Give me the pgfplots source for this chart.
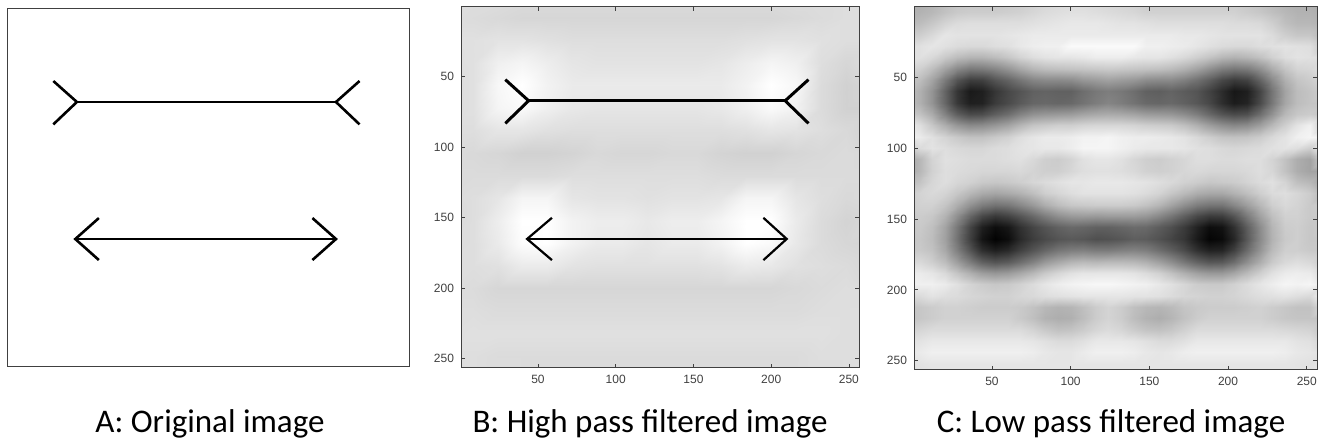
\documentclass[border=0pt]{standalone}
\usepackage{fontspec}
\setmainfont{Carlito}
\setsansfont{Liberation Sans}
\usepackage{pgfplots}
\pgfplotsset{compat=1.18}
\pgfplotsset{
 imgax/.style={scale only axis, anchor=south west, xmin=0.5, xmax=256.5, ymin=0.5, ymax=256.5,
   y dir=reverse, axis line style={black!75, line width=0.5pt}, axis on top=true},
 tickax/.style={xtick={50,100,150,200,250}, ytick={50,100,150,200,250}, tick align=inside,
   tick pos=both, major tick length=2pt, tick style={black!75, line width=0.4pt},
   tick label style={font=\sffamily\fontsize{6}{7}\selectfont, text=black!75},
   /pgf/number format/assume math mode=true},
 colormap={bw}{gray(0cm)=(0); gray(1cm)=(1)},
}
\begin{document}
\begin{tikzpicture}
\useasboundingbox (0,0) rectangle (660pt,221pt);
% ---------------- Panel A ----------------
\begin{axis}[imgax, at={(3.5pt,37.5pt)}, width=201pt, height=179pt, ticks=none]
\addplot[black, line width=1.3pt] coordinates {(30,52) (45,67) (30,83)};
\addplot[black, line width=1.3pt] coordinates {(45,67) (210,67)};
\addplot[black, line width=1.3pt] coordinates {(225,52) (210,67) (225,83)};
\addplot[black, line width=1.3pt] coordinates {(59,150) (44,165) (59,180)};
\addplot[black, line width=1.3pt] coordinates {(44,165) (210,165)};
\addplot[black, line width=1.3pt] coordinates {(195,150) (210,165) (195,180)};
\end{axis}
% ---------------- Panel B ----------------
\begin{axis}[imgax, tickax, at={(230.5pt,37pt)}, width=199pt, height=180.5pt,
  point meta min=0, point meta max=1]
\addplot[matrix plot*, shader=interp, mesh/cols=17, point meta=explicit] table[row sep=\\, meta=c] {
x y c\\
0 0 .87\\ 16 0 .87\\ 32 0 .87\\ 48 0 .86\\ 64 0 .86\\ 80 0 .86\\ 96 0 .86\\ 112 0 .86\\ 128 0 .86\\ 144 0 .86\\ 160 0 .86\\ 176 0 .86\\ 192 0 .86\\ 208 0 .86\\ 224 0 .87\\ 240 0 .87\\ 256 0 .87\\
0 16 .87\\ 16 16 .86\\ 32 16 .85\\ 48 16 .84\\ 64 16 .84\\ 80 16 .84\\ 96 16 .84\\ 112 16 .84\\ 128 16 .84\\ 144 16 .84\\ 160 16 .84\\ 176 16 .84\\ 192 16 .84\\ 208 16 .84\\ 224 16 .85\\ 240 16 .86\\ 256 16 .87\\
0 32 .88\\ 16 32 .88\\ 32 32 .89\\ 48 32 .89\\ 64 32 .88\\ 80 32 .87\\ 96 32 .87\\ 112 32 .87\\ 128 32 .87\\ 144 32 .87\\ 160 32 .87\\ 176 32 .87\\ 192 32 .88\\ 208 32 .89\\ 224 32 .89\\ 240 32 .88\\ 256 32 .87\\
0 48 .87\\ 16 48 .88\\ 32 48 .94\\ 48 48 .96\\ 64 48 .93\\ 80 48 .90\\ 96 48 .89\\ 112 48 .89\\ 128 48 .89\\ 144 48 .89\\ 160 48 .89\\ 176 48 .90\\ 192 48 .93\\ 208 48 .96\\ 224 48 .94\\ 240 48 .87\\ 256 48 .84\\
0 64 .86\\ 16 64 .88\\ 32 64 .97\\ 48 64 1\\ 64 64 .95\\ 80 64 .92\\ 96 64 .92\\ 112 64 .92\\ 128 64 .92\\ 144 64 .92\\ 160 64 .92\\ 176 64 .92\\ 192 64 .95\\ 208 64 1\\ 224 64 .97\\ 240 64 .86\\ 256 64 .82\\
0 80 .86\\ 16 80 .88\\ 32 80 .96\\ 48 80 .98\\ 64 80 .94\\ 80 80 .91\\ 96 80 .90\\ 112 80 .90\\ 128 80 .90\\ 144 80 .90\\ 160 80 .90\\ 176 80 .91\\ 192 80 .94\\ 208 80 .98\\ 224 80 .95\\ 240 80 .86\\ 256 80 .82\\
0 96 .87\\ 16 96 .87\\ 32 96 .90\\ 48 96 .90\\ 64 96 .88\\ 80 96 .87\\ 96 96 .87\\ 112 96 .87\\ 128 96 .87\\ 144 96 .87\\ 160 96 .87\\ 176 96 .87\\ 192 96 .88\\ 208 96 .90\\ 224 96 .89\\ 240 96 .87\\ 256 96 .85\\
0 112 .86\\ 16 112 .85\\ 32 112 .84\\ 48 112 .82\\ 64 112 .82\\ 80 112 .83\\ 96 112 .85\\ 112 112 .84\\ 128 112 .84\\ 144 112 .85\\ 160 112 .85\\ 176 112 .83\\ 192 112 .82\\ 208 112 .82\\ 224 112 .84\\ 240 112 .85\\ 256 112 .86\\
0 128 .86\\ 16 128 .86\\ 32 128 .86\\ 48 128 .86\\ 64 128 .86\\ 80 128 .87\\ 96 128 .87\\ 112 128 .87\\ 128 128 .87\\ 144 128 .87\\ 160 128 .87\\ 176 128 .86\\ 192 128 .86\\ 208 128 .86\\ 224 128 .86\\ 240 128 .86\\ 256 128 .86\\
0 144 .86\\ 16 144 .87\\ 32 144 .90\\ 48 144 .96\\ 64 144 .96\\ 80 144 .90\\ 96 144 .89\\ 112 144 .89\\ 128 144 .88\\ 144 144 .89\\ 160 144 .89\\ 176 144 .90\\ 192 144 .96\\ 208 144 .96\\ 224 144 .90\\ 240 144 .87\\ 256 144 .85\\
0 160 .85\\ 16 160 .87\\ 32 160 .93\\ 48 160 1\\ 64 160 1\\ 80 160 .95\\ 96 160 .93\\ 112 160 .93\\ 128 160 .91\\ 144 160 .93\\ 160 160 .93\\ 176 160 .96\\ 192 160 1\\ 208 160 1\\ 224 160 .92\\ 240 160 .86\\ 256 160 .83\\
0 176 .86\\ 16 176 .87\\ 32 176 .92\\ 48 176 .99\\ 64 176 1\\ 80 176 .95\\ 96 176 .92\\ 112 176 .92\\ 128 176 .90\\ 144 176 .92\\ 160 176 .92\\ 176 176 .95\\ 192 176 1\\ 208 176 .98\\ 224 176 .91\\ 240 176 .86\\ 256 176 .84\\
0 192 .87\\ 16 192 .87\\ 32 192 .88\\ 48 192 .92\\ 64 192 .92\\ 80 192 .89\\ 96 192 .88\\ 112 192 .88\\ 128 192 .88\\ 144 192 .88\\ 160 192 .88\\ 176 192 .89\\ 192 192 .92\\ 208 192 .91\\ 224 192 .88\\ 240 192 .87\\ 256 192 .86\\
0 208 .87\\ 16 208 .86\\ 32 208 .84\\ 48 208 .84\\ 64 208 .84\\ 80 208 .84\\ 96 208 .84\\ 112 208 .84\\ 128 208 .84\\ 144 208 .84\\ 160 208 .84\\ 176 208 .84\\ 192 208 .84\\ 208 208 .84\\ 224 208 .85\\ 240 208 .86\\ 256 208 .87\\
0 224 .87\\ 16 224 .87\\ 32 224 .86\\ 48 224 .86\\ 64 224 .86\\ 80 224 .86\\ 96 224 .86\\ 112 224 .86\\ 128 224 .86\\ 144 224 .86\\ 160 224 .86\\ 176 224 .86\\ 192 224 .86\\ 208 224 .86\\ 224 224 .86\\ 240 224 .87\\ 256 224 .87\\
0 240 .87\\ 16 240 .88\\ 32 240 .88\\ 48 240 .88\\ 64 240 .88\\ 80 240 .88\\ 96 240 .88\\ 112 240 .88\\ 128 240 .88\\ 144 240 .88\\ 160 240 .88\\ 176 240 .88\\ 192 240 .88\\ 208 240 .88\\ 224 240 .88\\ 240 240 .88\\ 256 240 .87\\
0 256 .87\\ 16 256 .87\\ 32 256 .86\\ 48 256 .86\\ 64 256 .86\\ 80 256 .86\\ 96 256 .86\\ 112 256 .86\\ 128 256 .86\\ 144 256 .86\\ 160 256 .86\\ 176 256 .86\\ 192 256 .86\\ 208 256 .86\\ 224 256 .86\\ 240 256 .87\\ 256 256 .87\\
};
\addplot[black, line width=1.5pt] coordinates {(29,52) (44,67) (29,83)};
\addplot[black, line width=1.5pt] coordinates {(44,67) (209,67)};
\addplot[black, line width=1.5pt] coordinates {(224,52) (209,67) (224,83)};
\addplot[black, line width=1.1pt] coordinates {(59,150) (43,165) (59,180)};
\addplot[black, line width=1.1pt] coordinates {(43,165) (210,165)};
\addplot[black, line width=1.1pt] coordinates {(195,150) (210,165) (195,180)};
\end{axis}
% ---------------- Panel C ----------------
\begin{axis}[imgax, tickax, at={(457pt,36pt)}, width=201.5pt, height=181.5pt,
  point meta min=0, point meta max=1]
\addplot[matrix plot*, shader=interp, mesh/cols=33, point meta=explicit] table[row sep=\\, meta=c] {
x y c\\
0 0 .68\\ 8 0 .68\\ 16 0 .70\\ 24 0 .74\\ 32 0 .77\\ 40 0 .78\\ 48 0 .78\\ 56 0 .78\\ 64 0 .79\\ 72 0 .80\\ 80 0 .82\\ 88 0 .84\\ 96 0 .85\\ 104 0 .86\\ 112 0 .86\\ 120 0 .85\\ 128 0 .84\\ 136 0 .83\\ 144 0 .82\\ 152 0 .80\\ 160 0 .80\\ 168 0 .80\\ 176 0 .80\\ 184 0 .80\\ 192 0 .80\\ 200 0 .80\\ 208 0 .80\\ 216 0 .78\\ 224 0 .76\\ 232 0 .73\\ 240 0 .70\\ 248 0 .68\\ 256 0 .68\\
0 8 .70\\ 8 8 .70\\ 16 8 .72\\ 24 8 .76\\ 32 8 .79\\ 40 8 .80\\ 48 8 .80\\ 56 8 .80\\ 64 8 .81\\ 72 8 .82\\ 80 8 .84\\ 88 8 .86\\ 96 8 .87\\ 104 8 .88\\ 112 8 .88\\ 120 8 .87\\ 128 8 .86\\ 136 8 .85\\ 144 8 .84\\ 152 8 .82\\ 160 8 .82\\ 168 8 .82\\ 176 8 .82\\ 184 8 .82\\ 192 8 .82\\ 200 8 .82\\ 208 8 .82\\ 216 8 .80\\ 224 8 .78\\ 232 8 .75\\ 240 8 .72\\ 248 8 .70\\ 256 8 .70\\
0 16 .72\\ 8 16 .74\\ 16 16 .78\\ 24 16 .83\\ 32 16 .86\\ 40 16 .87\\ 48 16 .87\\ 56 16 .87\\ 64 16 .87\\ 72 16 .87\\ 80 16 .88\\ 88 16 .89\\ 96 16 .90\\ 104 16 .91\\ 112 16 .91\\ 120 16 .91\\ 128 16 .90\\ 136 16 .89\\ 144 16 .89\\ 152 16 .88\\ 160 16 .87\\ 168 16 .87\\ 176 16 .87\\ 184 16 .87\\ 192 16 .87\\ 200 16 .87\\ 208 16 .86\\ 216 16 .86\\ 224 16 .85\\ 232 16 .81\\ 240 16 .75\\ 248 16 .72\\ 256 16 .72\\
0 24 .80\\ 8 24 .81\\ 16 24 .85\\ 24 24 .90\\ 32 24 .89\\ 40 24 .89\\ 48 24 .89\\ 56 24 .89\\ 64 24 .90\\ 72 24 .91\\ 80 24 .92\\ 88 24 .92\\ 96 24 .92\\ 104 24 .92\\ 112 24 .92\\ 120 24 .92\\ 128 24 .92\\ 136 24 .92\\ 144 24 .92\\ 152 24 .92\\ 160 24 .92\\ 168 24 .92\\ 176 24 .91\\ 184 24 .91\\ 192 24 .90\\ 200 24 .89\\ 208 24 .89\\ 216 24 .89\\ 224 24 .89\\ 232 24 .86\\ 240 24 .81\\ 248 24 .78\\ 256 24 .78\\
0 32 .87\\ 8 32 .88\\ 16 32 .90\\ 24 32 .88\\ 32 32 .86\\ 40 32 .85\\ 48 32 .85\\ 56 32 .87\\ 64 32 .88\\ 72 32 .91\\ 80 32 .93\\ 88 32 .94\\ 96 32 .94\\ 104 32 .98\\ 112 32 .98\\ 120 32 .98\\ 128 32 .98\\ 136 32 .98\\ 144 32 .98\\ 152 32 .94\\ 160 32 .94\\ 168 32 .93\\ 176 32 .92\\ 184 32 .90\\ 192 32 .88\\ 200 32 .86\\ 208 32 .85\\ 216 32 .85\\ 224 32 .87\\ 232 32 .88\\ 240 32 .89\\ 248 32 .88\\ 256 32 .87\\
0 40 .88\\ 8 40 .88\\ 16 40 .85\\ 24 40 .79\\ 32 40 .74\\ 40 40 .71\\ 48 40 .71\\ 56 40 .74\\ 64 40 .78\\ 72 40 .83\\ 80 40 .87\\ 88 40 .89\\ 96 40 .90\\ 104 40 .90\\ 112 40 .91\\ 120 40 .93\\ 128 40 .93\\ 136 40 .93\\ 144 40 .91\\ 152 40 .90\\ 160 40 .90\\ 168 40 .88\\ 176 40 .85\\ 184 40 .81\\ 192 40 .77\\ 200 40 .72\\ 208 40 .70\\ 216 40 .72\\ 224 40 .76\\ 232 40 .82\\ 240 40 .87\\ 248 40 .89\\ 256 40 .88\\
0 48 .84\\ 8 48 .81\\ 16 48 .74\\ 24 48 .63\\ 32 48 .53\\ 40 48 .47\\ 48 48 .48\\ 56 48 .52\\ 64 48 .58\\ 72 48 .65\\ 80 48 .71\\ 88 48 .74\\ 96 48 .75\\ 104 48 .76\\ 112 48 .77\\ 120 48 .78\\ 128 48 .79\\ 136 48 .78\\ 144 48 .77\\ 152 48 .76\\ 160 48 .75\\ 168 48 .73\\ 176 48 .69\\ 184 48 .63\\ 192 48 .56\\ 200 48 .49\\ 208 48 .46\\ 216 48 .48\\ 224 48 .56\\ 232 48 .67\\ 240 48 .77\\ 248 48 .83\\ 256 48 .84\\
0 56 .78\\ 8 56 .74\\ 16 56 .64\\ 24 56 .48\\ 32 56 .33\\ 40 56 .24\\ 48 56 .25\\ 56 56 .33\\ 64 56 .39\\ 72 56 .46\\ 80 56 .52\\ 88 56 .54\\ 96 56 .54\\ 104 56 .55\\ 112 56 .59\\ 120 56 .61\\ 128 56 .63\\ 136 56 .61\\ 144 56 .59\\ 152 56 .55\\ 160 56 .54\\ 168 56 .54\\ 176 56 .50\\ 184 56 .44\\ 192 56 .37\\ 200 56 .28\\ 208 56 .23\\ 216 56 .26\\ 224 56 .39\\ 232 56 .54\\ 240 56 .69\\ 248 56 .77\\ 256 56 .80\\
0 64 .75\\ 8 64 .69\\ 16 64 .58\\ 24 64 .39\\ 32 64 .21\\ 40 64 .10\\ 48 64 .12\\ 56 64 .21\\ 64 64 .28\\ 72 64 .33\\ 80 64 .38\\ 88 64 .39\\ 96 64 .38\\ 104 64 .38\\ 112 64 .43\\ 120 64 .47\\ 128 64 .49\\ 136 64 .47\\ 144 64 .43\\ 152 64 .38\\ 160 64 .37\\ 168 64 .39\\ 176 64 .36\\ 184 64 .33\\ 192 64 .26\\ 200 64 .17\\ 208 64 .09\\ 216 64 .12\\ 224 64 .27\\ 232 64 .46\\ 240 64 .64\\ 248 64 .74\\ 256 64 .77\\
0 72 .75\\ 8 72 .69\\ 16 72 .58\\ 24 72 .40\\ 32 72 .22\\ 40 72 .12\\ 48 72 .13\\ 56 72 .23\\ 64 72 .29\\ 72 72 .35\\ 80 72 .40\\ 88 72 .41\\ 96 72 .40\\ 104 72 .41\\ 112 72 .45\\ 120 72 .49\\ 128 72 .52\\ 136 72 .49\\ 144 72 .45\\ 152 72 .41\\ 160 72 .40\\ 168 72 .41\\ 176 72 .38\\ 184 72 .34\\ 192 72 .28\\ 200 72 .18\\ 208 72 .11\\ 216 72 .14\\ 224 72 .29\\ 232 72 .47\\ 240 72 .65\\ 248 72 .74\\ 256 72 .77\\
0 80 .80\\ 8 80 .76\\ 16 80 .67\\ 24 80 .51\\ 32 80 .37\\ 40 80 .29\\ 48 80 .30\\ 56 80 .37\\ 64 80 .43\\ 72 80 .51\\ 80 80 .57\\ 88 80 .59\\ 96 80 .60\\ 104 80 .61\\ 112 80 .64\\ 120 80 .66\\ 128 80 .67\\ 136 80 .66\\ 144 80 .64\\ 152 80 .61\\ 160 80 .60\\ 168 80 .59\\ 176 80 .55\\ 184 80 .49\\ 192 80 .41\\ 200 80 .33\\ 208 80 .29\\ 216 80 .31\\ 224 80 .43\\ 232 80 .57\\ 240 80 .72\\ 248 80 .78\\ 256 80 .80\\
0 88 .93\\ 8 88 .87\\ 16 88 .78\\ 24 88 .68\\ 32 88 .59\\ 40 88 .54\\ 48 88 .55\\ 56 88 .59\\ 64 88 .64\\ 72 88 .71\\ 80 88 .77\\ 88 88 .79\\ 96 88 .81\\ 104 88 .81\\ 112 88 .83\\ 120 88 .84\\ 128 88 .84\\ 136 88 .84\\ 144 88 .83\\ 152 88 .81\\ 160 88 .80\\ 168 88 .79\\ 176 88 .75\\ 184 88 .69\\ 192 88 .62\\ 200 88 .56\\ 208 88 .53\\ 216 88 .55\\ 224 88 .62\\ 232 88 .72\\ 240 88 .81\\ 248 88 .89\\ 256 88 .94\\
0 96 .95\\ 8 96 .92\\ 16 96 .88\\ 24 96 .83\\ 32 96 .79\\ 40 96 .76\\ 48 96 .76\\ 56 96 .79\\ 64 96 .82\\ 72 96 .87\\ 80 96 .90\\ 88 96 .92\\ 96 96 .92\\ 104 96 .93\\ 112 96 .95\\ 120 96 .95\\ 128 96 .96\\ 136 96 .94\\ 144 96 .93\\ 152 96 .93\\ 160 96 .92\\ 168 96 .91\\ 176 96 .89\\ 184 96 .85\\ 192 96 .81\\ 200 96 .77\\ 208 96 .76\\ 216 96 .77\\ 224 96 .80\\ 232 96 .85\\ 240 96 .89\\ 248 96 .94\\ 256 96 .96\\
0 104 .81\\ 8 104 .86\\ 16 104 .89\\ 24 104 .87\\ 32 104 .85\\ 40 104 .84\\ 48 104 .84\\ 56 104 .86\\ 64 104 .87\\ 72 104 .89\\ 80 104 .90\\ 88 104 .91\\ 96 104 .91\\ 104 104 .93\\ 112 104 .96\\ 120 104 .96\\ 128 104 .96\\ 136 104 .94\\ 144 104 .92\\ 152 104 .91\\ 160 104 .91\\ 168 104 .91\\ 176 104 .90\\ 184 104 .88\\ 192 104 .87\\ 200 104 .85\\ 208 104 .84\\ 216 104 .85\\ 224 104 .86\\ 232 104 .88\\ 240 104 .89\\ 248 104 .87\\ 256 104 .81\\
0 112 .64\\ 8 112 .72\\ 16 112 .83\\ 24 112 .88\\ 32 112 .87\\ 40 112 .86\\ 48 112 .86\\ 56 112 .86\\ 64 112 .87\\ 72 112 .88\\ 80 112 .85\\ 88 112 .81\\ 96 112 .80\\ 104 112 .83\\ 112 112 .88\\ 120 112 .90\\ 128 112 .90\\ 136 112 .88\\ 144 112 .84\\ 152 112 .81\\ 160 112 .80\\ 168 112 .82\\ 176 112 .84\\ 184 112 .87\\ 192 112 .87\\ 200 112 .86\\ 208 112 .86\\ 216 112 .87\\ 224 112 .87\\ 232 112 .83\\ 240 112 .76\\ 248 112 .68\\ 256 112 .64\\
0 120 .64\\ 8 120 .72\\ 16 120 .82\\ 24 120 .87\\ 32 120 .86\\ 40 120 .85\\ 48 120 .84\\ 56 120 .84\\ 64 120 .84\\ 72 120 .85\\ 80 120 .83\\ 88 120 .81\\ 96 120 .81\\ 104 120 .84\\ 112 120 .87\\ 120 120 .88\\ 128 120 .88\\ 136 120 .87\\ 144 120 .85\\ 152 120 .82\\ 160 120 .81\\ 168 120 .82\\ 176 120 .84\\ 184 120 .85\\ 192 120 .84\\ 200 120 .84\\ 208 120 .84\\ 216 120 .85\\ 224 120 .87\\ 232 120 .84\\ 240 120 .76\\ 248 120 .68\\ 256 120 .64\\
0 128 .72\\ 8 128 .77\\ 16 128 .84\\ 24 128 .87\\ 32 128 .84\\ 40 128 .82\\ 48 128 .79\\ 56 128 .78\\ 64 128 .79\\ 72 128 .81\\ 80 128 .84\\ 88 128 .86\\ 96 128 .88\\ 104 128 .90\\ 112 128 .90\\ 120 128 .91\\ 128 128 .91\\ 136 128 .91\\ 144 128 .90\\ 152 128 .89\\ 160 128 .87\\ 168 128 .85\\ 176 128 .82\\ 184 128 .80\\ 192 128 .78\\ 200 128 .79\\ 208 128 .80\\ 216 128 .83\\ 224 128 .86\\ 232 128 .88\\ 240 128 .83\\ 248 128 .75\\ 256 128 .72\\
0 136 .79\\ 8 136 .83\\ 16 136 .85\\ 24 136 .83\\ 32 136 .78\\ 40 136 .72\\ 48 136 .67\\ 56 136 .65\\ 64 136 .67\\ 72 136 .70\\ 80 136 .75\\ 88 136 .81\\ 96 136 .84\\ 104 136 .87\\ 112 136 .89\\ 120 136 .89\\ 128 136 .89\\ 136 136 .89\\ 144 136 .88\\ 152 136 .86\\ 160 136 .83\\ 168 136 .78\\ 176 136 .73\\ 184 136 .68\\ 192 136 .66\\ 200 136 .66\\ 208 136 .70\\ 216 136 .75\\ 224 136 .81\\ 232 136 .86\\ 240 136 .87\\ 248 136 .84\\ 256 136 .80\\
0 144 .79\\ 8 144 .82\\ 16 144 .82\\ 24 144 .77\\ 32 144 .68\\ 40 144 .57\\ 48 144 .49\\ 56 144 .45\\ 64 144 .47\\ 72 144 .53\\ 80 144 .60\\ 88 144 .68\\ 96 144 .74\\ 104 144 .78\\ 112 144 .79\\ 120 144 .80\\ 128 144 .80\\ 136 144 .80\\ 144 144 .79\\ 152 144 .76\\ 160 144 .71\\ 168 144 .64\\ 176 144 .56\\ 184 144 .49\\ 192 144 .46\\ 200 144 .46\\ 208 144 .53\\ 216 144 .62\\ 224 144 .72\\ 232 144 .81\\ 240 144 .85\\ 248 144 .83\\ 256 144 .79\\
0 152 .78\\ 8 152 .80\\ 16 152 .78\\ 24 152 .70\\ 32 152 .56\\ 40 152 .40\\ 48 152 .28\\ 56 152 .22\\ 64 152 .26\\ 72 152 .33\\ 80 152 .41\\ 88 152 .49\\ 96 152 .56\\ 104 152 .60\\ 112 152 .61\\ 120 152 .60\\ 128 152 .61\\ 136 152 .61\\ 144 152 .61\\ 152 152 .59\\ 160 152 .53\\ 168 152 .46\\ 176 152 .37\\ 184 152 .28\\ 192 152 .23\\ 200 152 .24\\ 208 152 .33\\ 216 152 .48\\ 224 152 .63\\ 232 152 .75\\ 240 152 .82\\ 248 152 .82\\ 256 152 .79\\
0 160 .77\\ 8 160 .79\\ 16 160 .75\\ 24 160 .64\\ 32 160 .47\\ 40 160 .27\\ 48 160 .12\\ 56 160 .05\\ 64 160 .09\\ 72 160 .19\\ 80 160 .27\\ 88 160 .33\\ 96 160 .38\\ 104 160 .41\\ 112 160 .40\\ 120 160 .38\\ 128 160 .38\\ 136 160 .40\\ 144 160 .42\\ 152 160 .41\\ 160 160 .36\\ 168 160 .31\\ 176 160 .23\\ 184 160 .13\\ 192 160 .05\\ 200 160 .07\\ 208 160 .19\\ 216 160 .37\\ 224 160 .55\\ 232 160 .71\\ 240 160 .80\\ 248 160 .81\\ 256 160 .78\\
0 168 .77\\ 8 168 .78\\ 16 168 .74\\ 24 168 .63\\ 32 168 .45\\ 40 168 .25\\ 48 168 .08\\ 56 168 .01\\ 64 168 .05\\ 72 168 .16\\ 80 168 .24\\ 88 168 .29\\ 96 168 .33\\ 104 168 .35\\ 112 168 .34\\ 120 168 .31\\ 128 168 .32\\ 136 168 .34\\ 144 168 .37\\ 152 168 .36\\ 160 168 .32\\ 168 168 .27\\ 176 168 .21\\ 184 168 .10\\ 192 168 .02\\ 200 168 .04\\ 208 168 .15\\ 216 168 .35\\ 224 168 .54\\ 232 168 .70\\ 240 168 .79\\ 248 168 .81\\ 256 168 .78\\
0 176 .78\\ 8 176 .79\\ 16 176 .76\\ 24 176 .66\\ 32 176 .50\\ 40 176 .33\\ 48 176 .18\\ 56 176 .12\\ 64 176 .16\\ 72 176 .25\\ 80 176 .33\\ 88 176 .40\\ 96 176 .46\\ 104 176 .49\\ 112 176 .50\\ 120 176 .48\\ 128 176 .48\\ 136 176 .50\\ 144 176 .51\\ 152 176 .49\\ 160 176 .43\\ 168 176 .37\\ 176 176 .29\\ 184 176 .19\\ 192 176 .13\\ 200 176 .14\\ 208 176 .25\\ 216 176 .42\\ 224 176 .58\\ 232 176 .73\\ 240 176 .81\\ 248 176 .81\\ 256 176 .79\\
0 184 .84\\ 8 184 .85\\ 16 184 .81\\ 24 184 .74\\ 32 184 .62\\ 40 184 .49\\ 48 184 .38\\ 56 184 .33\\ 64 184 .36\\ 72 184 .43\\ 80 184 .51\\ 88 184 .60\\ 96 184 .66\\ 104 184 .71\\ 112 184 .73\\ 120 184 .72\\ 128 184 .73\\ 136 184 .73\\ 144 184 .72\\ 152 184 .69\\ 160 184 .63\\ 168 184 .56\\ 176 184 .47\\ 184 184 .39\\ 192 184 .34\\ 200 184 .35\\ 208 184 .43\\ 216 184 .56\\ 224 184 .68\\ 232 184 .79\\ 240 184 .85\\ 248 184 .87\\ 256 184 .85\\
0 192 .92\\ 8 192 .92\\ 16 192 .90\\ 24 192 .85\\ 32 192 .77\\ 40 192 .69\\ 48 192 .62\\ 56 192 .59\\ 64 192 .61\\ 72 192 .66\\ 80 192 .72\\ 88 192 .79\\ 96 192 .84\\ 104 192 .88\\ 112 192 .90\\ 120 192 .90\\ 128 192 .90\\ 136 192 .90\\ 144 192 .89\\ 152 192 .86\\ 160 192 .82\\ 168 192 .76\\ 176 192 .69\\ 184 192 .63\\ 192 192 .60\\ 200 192 .60\\ 208 192 .65\\ 216 192 .73\\ 224 192 .81\\ 232 192 .88\\ 240 192 .92\\ 248 192 .93\\ 256 192 .92\\
0 200 .95\\ 8 200 .94\\ 16 200 .94\\ 24 200 .92\\ 32 200 .88\\ 40 200 .83\\ 48 200 .80\\ 56 200 .78\\ 64 200 .79\\ 72 200 .82\\ 80 200 .86\\ 88 200 .90\\ 96 200 .93\\ 104 200 .95\\ 112 200 .96\\ 120 200 .97\\ 128 200 .97\\ 136 200 .96\\ 144 200 .95\\ 152 200 .94\\ 160 200 .91\\ 168 200 .88\\ 176 200 .84\\ 184 200 .80\\ 192 200 .79\\ 200 200 .79\\ 208 200 .82\\ 216 200 .86\\ 224 200 .90\\ 232 200 .93\\ 240 200 .96\\ 248 200 .95\\ 256 200 .96\\
0 208 .85\\ 8 208 .86\\ 16 208 .89\\ 24 208 .87\\ 32 208 .86\\ 40 208 .84\\ 48 208 .83\\ 56 208 .82\\ 64 208 .82\\ 72 208 .84\\ 80 208 .85\\ 88 208 .87\\ 96 208 .88\\ 104 208 .89\\ 112 208 .90\\ 120 208 .90\\ 128 208 .90\\ 136 208 .90\\ 144 208 .89\\ 152 208 .89\\ 160 208 .88\\ 168 208 .86\\ 176 208 .84\\ 184 208 .83\\ 192 208 .82\\ 200 208 .82\\ 208 208 .83\\ 216 208 .85\\ 224 208 .87\\ 232 208 .88\\ 240 208 .89\\ 248 208 .87\\ 256 208 .85\\
0 216 .76\\ 8 216 .78\\ 16 216 .80\\ 24 216 .82\\ 32 216 .82\\ 40 216 .81\\ 48 216 .80\\ 56 216 .80\\ 64 216 .80\\ 72 216 .79\\ 80 216 .76\\ 88 216 .72\\ 96 216 .70\\ 104 216 .71\\ 112 216 .75\\ 120 216 .80\\ 128 216 .83\\ 136 216 .80\\ 144 216 .75\\ 152 216 .72\\ 160 216 .71\\ 168 216 .73\\ 176 216 .77\\ 184 216 .79\\ 192 216 .80\\ 200 216 .80\\ 208 216 .80\\ 216 216 .81\\ 224 216 .82\\ 232 216 .80\\ 240 216 .78\\ 248 216 .76\\ 256 216 .76\\
0 224 .76\\ 8 224 .78\\ 16 224 .80\\ 24 224 .82\\ 32 224 .82\\ 40 224 .82\\ 48 224 .82\\ 56 224 .82\\ 64 224 .82\\ 72 224 .79\\ 80 224 .75\\ 88 224 .70\\ 96 224 .68\\ 104 224 .69\\ 112 224 .74\\ 120 224 .80\\ 128 224 .83\\ 136 224 .80\\ 144 224 .74\\ 152 224 .70\\ 160 224 .68\\ 168 224 .71\\ 176 224 .76\\ 184 224 .80\\ 192 224 .82\\ 200 224 .82\\ 208 224 .82\\ 216 224 .82\\ 224 224 .82\\ 232 224 .80\\ 240 224 .78\\ 248 224 .77\\ 256 224 .77\\
0 232 .82\\ 8 232 .84\\ 16 232 .86\\ 24 232 .86\\ 32 232 .86\\ 40 232 .86\\ 48 232 .86\\ 56 232 .86\\ 64 232 .86\\ 72 232 .86\\ 80 232 .83\\ 88 232 .79\\ 96 232 .76\\ 104 232 .77\\ 112 232 .80\\ 120 232 .84\\ 128 232 .86\\ 136 232 .84\\ 144 232 .80\\ 152 232 .77\\ 160 232 .76\\ 168 232 .78\\ 176 232 .82\\ 184 232 .86\\ 192 232 .86\\ 200 232 .86\\ 208 232 .86\\ 216 232 .86\\ 224 232 .86\\ 232 232 .86\\ 240 232 .85\\ 248 232 .84\\ 256 232 .83\\
0 240 .88\\ 8 240 .89\\ 16 240 .91\\ 24 240 .91\\ 32 240 .91\\ 40 240 .91\\ 48 240 .91\\ 56 240 .91\\ 64 240 .91\\ 72 240 .91\\ 80 240 .90\\ 88 240 .88\\ 96 240 .86\\ 104 240 .86\\ 112 240 .88\\ 120 240 .91\\ 128 240 .91\\ 136 240 .91\\ 144 240 .90\\ 152 240 .88\\ 160 240 .86\\ 168 240 .86\\ 176 240 .88\\ 184 240 .91\\ 192 240 .91\\ 200 240 .91\\ 208 240 .91\\ 216 240 .91\\ 224 240 .91\\ 232 240 .91\\ 240 240 .91\\ 248 240 .89\\ 256 240 .88\\
0 248 .90\\ 8 248 .92\\ 16 248 .94\\ 24 248 .94\\ 32 248 .94\\ 40 248 .94\\ 48 248 .94\\ 56 248 .94\\ 64 248 .94\\ 72 248 .94\\ 80 248 .93\\ 88 248 .91\\ 96 248 .90\\ 104 248 .90\\ 112 248 .92\\ 120 248 .94\\ 128 248 .94\\ 136 248 .94\\ 144 248 .93\\ 152 248 .91\\ 160 248 .90\\ 168 248 .91\\ 176 248 .93\\ 184 248 .94\\ 192 248 .94\\ 200 248 .94\\ 208 248 .94\\ 216 248 .94\\ 224 248 .94\\ 232 248 .94\\ 240 248 .93\\ 248 248 .91\\ 256 248 .90\\
0 256 .88\\ 8 256 .89\\ 16 256 .90\\ 24 256 .90\\ 32 256 .90\\ 40 256 .90\\ 48 256 .90\\ 56 256 .90\\ 64 256 .90\\ 72 256 .90\\ 80 256 .90\\ 88 256 .90\\ 96 256 .90\\ 104 256 .90\\ 112 256 .90\\ 120 256 .90\\ 128 256 .90\\ 136 256 .90\\ 144 256 .90\\ 152 256 .90\\ 160 256 .90\\ 168 256 .90\\ 176 256 .90\\ 184 256 .90\\ 192 256 .90\\ 200 256 .90\\ 208 256 .90\\ 216 256 .90\\ 224 256 .90\\ 232 256 .90\\ 240 256 .90\\ 248 256 .89\\ 256 256 .88\\
};
\end{axis}
% ---------------- Titles ----------------
\node[font=\fontsize{16.5}{20}\selectfont, anchor=base] at (105pt,4.5pt) {A: Original image};
\node[font=\fontsize{16.5}{20}\selectfont, anchor=base] at (325pt,4.5pt) {B: High pass filtered image};
\node[font=\fontsize{16.5}{20}\selectfont, anchor=base] at (555.5pt,4.5pt) {C: Low pass filtered image};
\end{tikzpicture}
\end{document}
